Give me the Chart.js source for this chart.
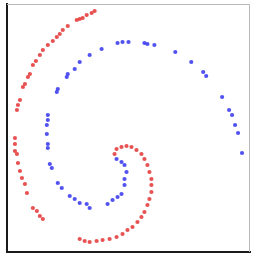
<!DOCTYPE html>
<html>
<head>
<meta charset="utf-8">
<script src="https://cdn.jsdelivr.net/npm/chart.js@4/dist/chart.umd.min.js"></script>
<style>
html,body{margin:0;padding:0;background:#fff;}
#wrap{width:254px;height:258px;position:relative;}
</style>
</head>
<body>
<div id="wrap"><canvas id="c" width="254" height="258"></canvas></div>
<script>
// Red spiral (class A), ordered from the inner end outward
const redX = [108,110,115,120,125,130,135,138,141,143,145,145,145,143,141,138,135,131,126,121,116,110,103,96,90,83,78,73,36,33,30,26,20,18,15,13,11,10,8,8,8,10,11,13,16,18,21,23,26,29,33,36,41,46,50,53,56,61,70,73,76,80,85,88];
const redY = [98,103,105,106,105,102,98,93,87,80,73,67,60,53,47,40,35,30,25,22,18,15,13,12,11,10,11,13,33,36,41,44,59,68,74,81,89,98,101,108,114,142,147,152,165,168,175,178,187,191,197,202,207,211,215,218,222,226,232,233,234,237,239,241];
// Blue spiral (class B), ordered from the inner end outward
const blueX = [110,115,118,120,118,118,115,111,106,101,83,80,73,68,63,55,51,45,43,41,41,40,40,41,41,50,51,60,61,68,73,83,95,111,116,122,138,141,148,169,185,197,200,216,223,226,229,232,236];
const blueY = [93,90,87,80,73,67,58,55,52,48,44,48,49,53,56,64,69,84,88,104,108,118,127,132,137,160,163,175,178,183,190,197,203,209,210,210,209,208,207,200,190,180,176,155,142,137,127,119,99];
const xRange = [0, 244];
const yRange = [0, 248];

const toPts = (xs, ys) => xs.map((x, i) => ({x: x, y: ys[i]}));

const frame = {
  id: 'frame',
  afterDraw(chart) {
    const {ctx, chartArea: a} = chart;
    ctx.save();
    ctx.strokeStyle = '#b8b8b8';
    ctx.lineWidth = 1;
    ctx.beginPath();
    ctx.moveTo(a.left, a.top + 0.5);
    ctx.lineTo(a.right - 0.5, a.top + 0.5);
    ctx.lineTo(a.right - 0.5, a.bottom);
    ctx.stroke();
    ctx.restore();
  }
};

new Chart(document.getElementById('c'), {
  type: 'scatter',
  data: {
    datasets: [
      {label: 'A', data: toPts(redX, redY), backgroundColor: 'rgba(228,58,58,0.88)', borderWidth: 0, pointRadius: 2.1, pointStyle: 'circle'},
      {label: 'B', data: toPts(blueX, blueY), backgroundColor: 'rgba(58,58,238,0.88)', borderWidth: 0, pointRadius: 2.1, pointStyle: 'circle'}
    ]
  },
  options: {
    responsive: false,
    animation: false,
    events: [],
    layout: {padding: {left: 7, top: 2, right: 2, bottom: 6}},
    plugins: {legend: {display: false}, tooltip: {enabled: false}},
    scales: {
      x: {min: xRange[0], max: xRange[1], ticks: {display: false}, grid: {display: false}, border: {display: true, color: '#1a1a1a', width: 2}, afterFit: (s) => { s.height = 0; }},
      y: {min: yRange[0], max: yRange[1], ticks: {display: false}, grid: {display: false}, border: {display: true, color: '#1a1a1a', width: 2}, afterFit: (s) => { s.width = 0; }}
    }
  },
  plugins: [frame]
});
</script>
</body>
</html>
